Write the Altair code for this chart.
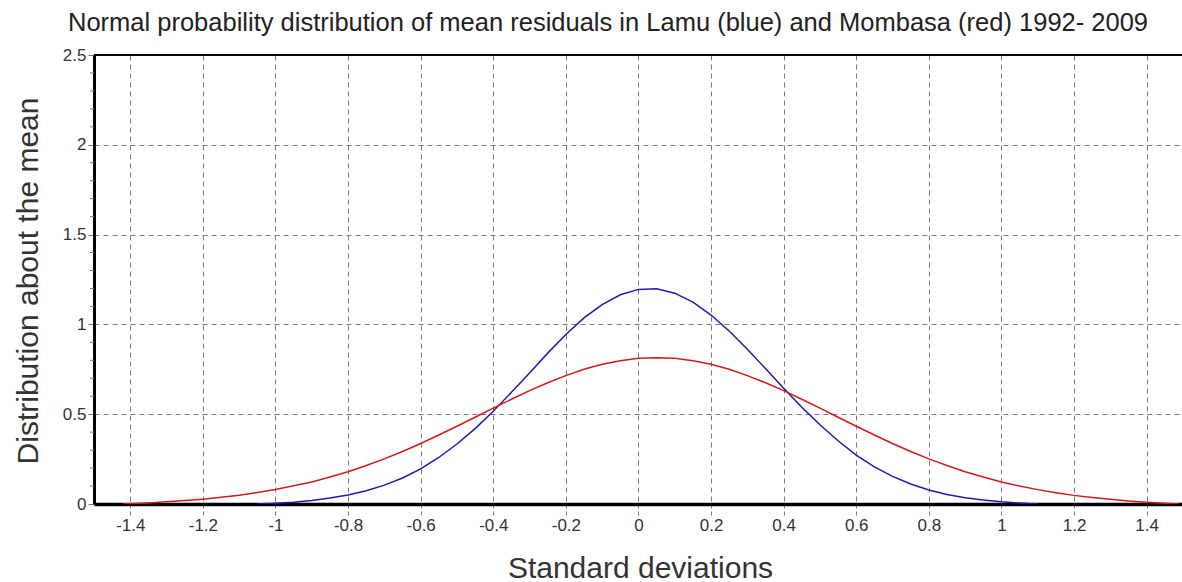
import altair as alt
import pandas as pd

title_text = "Normal probability distribution of mean residuals in Lamu (blue) and Mombasa (red) 1992- 2009"
x_title = "Standard deviations"
y_title = "Distribution about the mean"

series_names = ["Lamu", "Mombasa"]
series_colors = ["#1c1cb0", "#d01c1c"]

lamu_x = [-1.05, -1.0, -0.95, -0.9, -0.85, -0.8, -0.75, -0.7, -0.65, -0.6, -0.55, -0.5,
          -0.45, -0.4, -0.35, -0.3, -0.25, -0.2, -0.15, -0.1, -0.05, 0.0, 0.05, 0.1,
          0.15, 0.2, 0.25, 0.3, 0.35, 0.4, 0.45, 0.5, 0.55, 0.6, 0.65, 0.7, 0.75, 0.8,
          0.85, 0.9, 0.95, 1.0, 1.05, 1.1]
lamu_y = [0.0, 0.004, 0.01, 0.02, 0.033, 0.05, 0.074, 0.105, 0.145, 0.196, 0.259, 0.334,
          0.42, 0.516, 0.622, 0.73, 0.84, 0.944, 1.036, 1.11, 1.165, 1.195, 1.198, 1.174,
          1.124, 1.052, 0.963, 0.862, 0.754, 0.645, 0.539, 0.441, 0.352, 0.272, 0.207, 0.154,
          0.111, 0.078, 0.053, 0.035, 0.022, 0.012, 0.005, 0.0]

mombasa_x = [-1.42, -1.35, -1.3, -1.25, -1.2, -1.15, -1.1, -1.05, -1.0, -0.95, -0.9, -0.85,
             -0.8, -0.75, -0.7, -0.65, -0.6, -0.55, -0.5, -0.45, -0.4, -0.35, -0.3, -0.25,
             -0.2, -0.15, -0.1, -0.05, 0.0, 0.05, 0.1, 0.15, 0.2, 0.25, 0.3, 0.35, 0.4,
             0.45, 0.5, 0.55, 0.6, 0.65, 0.7, 0.75, 0.8, 0.85, 0.9, 0.95, 1.0, 1.05, 1.1,
             1.15, 1.2, 1.25, 1.3, 1.35, 1.4, 1.45, 1.49]
mombasa_y = [0.0, 0.006, 0.012, 0.019, 0.027, 0.037, 0.049, 0.064, 0.081, 0.101, 0.123, 0.15,
             0.18, 0.214, 0.251, 0.292, 0.337, 0.384, 0.433, 0.483, 0.534, 0.583, 0.631, 0.675,
             0.715, 0.75, 0.778, 0.798, 0.811, 0.815, 0.811, 0.798, 0.778, 0.75, 0.715, 0.675, 0.631,
             0.583, 0.534, 0.483, 0.433, 0.384, 0.337, 0.292, 0.251, 0.214, 0.18, 0.15, 0.123, 0.1, 0.08,
             0.063, 0.048, 0.036, 0.026, 0.017, 0.01, 0.004, 0.0]

x_ticks = [-1.4, -1.2, -1.0, -0.8, -0.6, -0.4, -0.2, 0.0, 0.2, 0.4, 0.6, 0.8, 1.0, 1.2, 1.4]
y_ticks = [0, 0.5, 1, 1.5, 2, 2.5]
y_minor = [0.1, 0.2, 0.3, 0.4, 0.6, 0.7, 0.8, 0.9, 1.1, 1.2, 1.3, 1.4, 1.6, 1.7, 1.8, 1.9,
           2.1, 2.2, 2.3, 2.4]

W, H = 1088, 449

df = pd.concat([
    pd.DataFrame({"x": lamu_x, "y": lamu_y, "series": series_names[0], "order": range(len(lamu_x))}),
    pd.DataFrame({"x": mombasa_x, "y": mombasa_y, "series": series_names[1], "order": range(len(mombasa_x))}),
])
minor_df = pd.DataFrame({"v": y_minor})

xscale = alt.Scale(domain=[-1.5, 1.4975], nice=False, zero=False)
yscale = alt.Scale(domain=[0, 2.5], nice=False)

label_expr = "datum.value < 0 ? '-' + format(-datum.value, '~g') : format(datum.value, '~g')"

x_axis = alt.Axis(
    values=x_ticks, labelExpr=label_expr, title=x_title,
    grid=True, gridColor="#7a7a7a", gridDash=[5, 4], gridWidth=1,
    domainColor="black", domainWidth=3.5,
    tickColor="#7a7a7a", tickDash=[4, 3], tickSize=11, tickWidth=1,
    labelFont="Liberation Sans", labelFontSize=17, labelColor="#333333", labelPadding=2,
    titleFont="Liberation Sans", titleFontSize=30, titleFontWeight="normal", titleColor="#333333",
    titleX=546, titleY=64, titleBaseline="middle",
)
y_axis = alt.Axis(
    values=y_ticks, labelExpr=label_expr, title=y_title,
    grid=True, gridColor="#7a7a7a", gridDash=[5, 4], gridWidth=1,
    domainColor="black", domainWidth=3,
    tickColor="#7a7a7a", tickSize=6, tickWidth=1,
    labelFont="Liberation Sans", labelFontSize=17, labelColor="#333333", labelPadding=2,
    titleFont="Liberation Sans", titleFontSize=30, titleFontWeight="normal", titleColor="#333333",
    titleX=-66, titleY=H / 2 + 1, titleAngle=-90, titleBaseline="middle",
)

lines = alt.Chart(df).mark_line(strokeWidth=1.5, clip=True).encode(
    x=alt.X("x:Q", scale=xscale, axis=x_axis),
    y=alt.Y("y:Q", scale=yscale, axis=y_axis),
    color=alt.Color("series:N", scale=alt.Scale(domain=series_names, range=series_colors), legend=None),
    order="order:Q",
)

minor = alt.Chart(minor_df).mark_rule(color="#7a7a7a", strokeWidth=1).encode(
    y=alt.Y("v:Q", scale=yscale),
    x=alt.value(-4),
    x2=alt.value(0),
)

top = alt.Chart(minor_df).mark_rule(color="black", strokeWidth=1.5).encode(
    y=alt.value(0),
    x=alt.value(0),
    x2=alt.value(W),
)

chart = alt.layer(lines, minor, top).properties(
    width=W, height=H,
    autosize=alt.AutoSizeParams(type="none"),
    padding={"left": 94, "top": 55, "right": 0, "bottom": 78},
    background="white",
    title=alt.TitleParams(
        title_text, anchor="start", frame="group", dx=-26, offset=10,
        font="Liberation Sans", fontSize=25.5, fontWeight="normal", color="#222222",
    ),
).configure_view(stroke=None)

chart.save("out.html", embed_options={"renderer": "svg", "actions": False})
